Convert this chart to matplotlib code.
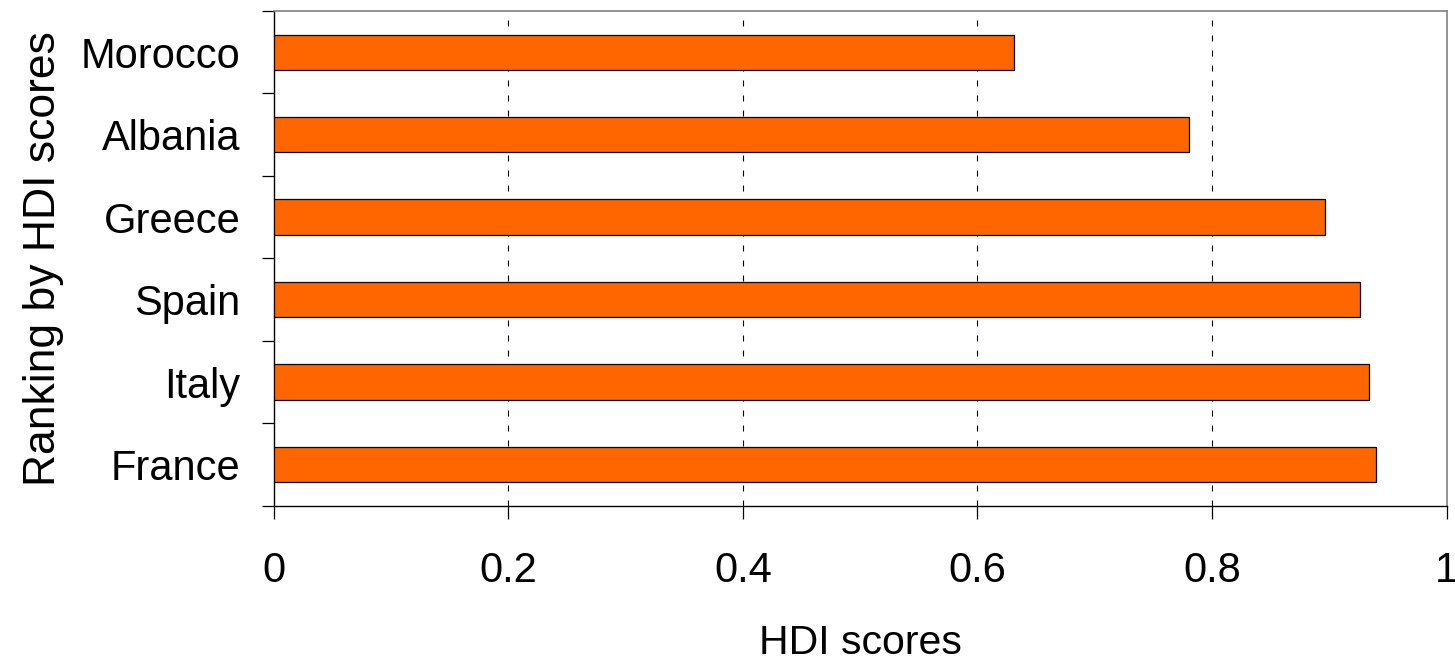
import matplotlib.pyplot as plt

plt.rcParams['font.family'] = ['Liberation Sans', 'DejaVu Sans']
plt.rcParams['lines.scale_dashes'] = False

countries = ['France', 'Italy', 'Spain', 'Greece', 'Albania', 'Morocco']
hdi = [0.940, 0.934, 0.926, 0.896, 0.780, 0.631]
xticks = [0, 0.2, 0.4, 0.6, 0.8, 1]
xticklabels = ['0', '0.2', '0.4', '0.6', '0.8', '1']

fig = plt.figure(figsize=(14.55, 6.67), dpi=100)
ax = fig.add_axes([0.1881, 0.2418, 0.8062, 0.7417])

pos = list(range(len(countries)))
ax.barh(pos, hdi, height=0.43, color='#FF6600', edgecolor='black',
        linewidth=0.9, zorder=3)

ax.set_xlim(0, 1)
ax.set_ylim(-0.5, len(countries) - 0.5)

# dashed vertical gridlines behind the bars
for x in xticks[1:-1]:
    ax.axvline(x, color='black', linewidth=0.8, linestyle=(0, (4.3, 6.5)), zorder=1)

ax.set_xticks(xticks)
ax.set_xticklabels(xticklabels, fontsize=30)
ax.tick_params(axis='x', direction='out', length=9.5, width=0.9, pad=23,
               color='black')

# category labels at bar centres, ticks on the category boundaries
ax.set_yticks(pos)
ax.set_yticklabels(countries, fontsize=30)
ax.tick_params(axis='y', which='major', length=0, pad=24)
ax.set_yticks([p - 0.5 for p in pos] + [len(countries) - 0.5], minor=True)
ax.tick_params(axis='y', which='minor', direction='out', length=9, width=0.9,
               color='black')

for side in ['top', 'right']:
    ax.spines[side].set_color('#808080')
    ax.spines[side].set_linewidth(1.2)
for side in ['left', 'bottom']:
    ax.spines[side].set_color('black')
    ax.spines[side].set_linewidth(1.0)

ax.set_xlabel('HDI scores', fontsize=29.5, labelpad=24)
ax.set_ylabel('Ranking by HDI scores', fontsize=32, labelpad=12)

fig.savefig('out.png', dpi=100)
